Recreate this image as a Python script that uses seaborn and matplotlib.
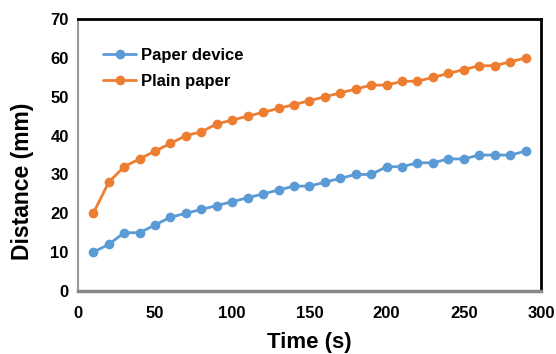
import matplotlib
matplotlib.use("Agg")
import matplotlib.pyplot as plt
import seaborn as sns
import pandas as pd

time_s = [10, 20, 30, 40, 50, 60, 70, 80, 90, 100, 110, 120, 130, 140, 150,
          160, 170, 180, 190, 200, 210, 220, 230, 240, 250, 260, 270, 280, 290]
paper_device = [10, 12, 15, 15, 17, 19, 20, 21, 22, 23, 24, 25, 26, 27, 27,
                28, 29, 30, 30, 32, 32, 33, 33, 34, 34, 35, 35, 35, 36]
plain_paper = [20, 28, 32, 34, 36, 38, 40, 41, 43, 44, 45, 46, 47, 48, 49,
               50, 51, 52, 53, 53, 54, 54, 55, 56, 57, 58, 58, 59, 60]
series_names = ["Paper device", "Plain paper"]
x_ticks = [0, 50, 100, 150, 200, 250, 300]
y_ticks = [0, 10, 20, 30, 40, 50, 60, 70]

df = pd.DataFrame({
    "Time": time_s * 2,
    "Distance": paper_device + plain_paper,
    "Series": [series_names[0]] * len(time_s) + [series_names[1]] * len(time_s),
})

sns.set_theme(style="white")
plt.rcParams["font.family"] = ["Liberation Sans", "DejaVu Sans"]
plt.rcParams["text.color"] = "black"
plt.rcParams["axes.labelcolor"] = "black"

fig = plt.figure(figsize=(5.56, 3.54), dpi=100)
ax = fig.add_axes([0.140, 0.178, 0.833, 0.768])

palette = {series_names[0]: "#5B9BD5", series_names[1]: "#ED7D31"}
sns.lineplot(data=df, x="Time", y="Distance", hue="Series", palette=palette,
             marker="o", markersize=7, markeredgewidth=0, linewidth=2,
             ax=ax)

ax.set_xlim(0, 300)
ax.set_ylim(0, 70)
ax.set_xticks(x_ticks)
ax.set_yticks(y_ticks)
ax.tick_params(axis="both", labelsize=12, length=3, width=0.8, colors="#999999",
               labelcolor="black", direction="out")
ax.tick_params(axis="x", pad=7.5)
for lab in ax.get_xticklabels() + ax.get_yticklabels():
    lab.set_fontweight("bold")
ax.set_xlabel("Time (s)", fontsize=16, fontweight="bold", labelpad=8)
ax.set_ylabel("Distance (mm)", fontsize=16.5, fontweight="bold")
ax.yaxis.set_label_coords(-0.095, 0.404)

for side in ["top", "right"]:
    ax.spines[side].set_color("black")
    ax.spines[side].set_linewidth(2)
ax.spines["left"].set_color("#999999")
ax.spines["left"].set_linewidth(1.5)
ax.spines["bottom"].set_color("#888888")
ax.spines["bottom"].set_linewidth(2.5)

leg = ax.legend(loc="upper left", bbox_to_anchor=(0.022, 0.95), frameon=False,
                prop={"weight": "bold", "size": 12}, handlelength=2.0,
                handletextpad=0.3, labelspacing=0.65)
for t in leg.get_texts():
    t.set_color("black")
ax.grid(False)

fig.savefig("out.png", dpi=100)
